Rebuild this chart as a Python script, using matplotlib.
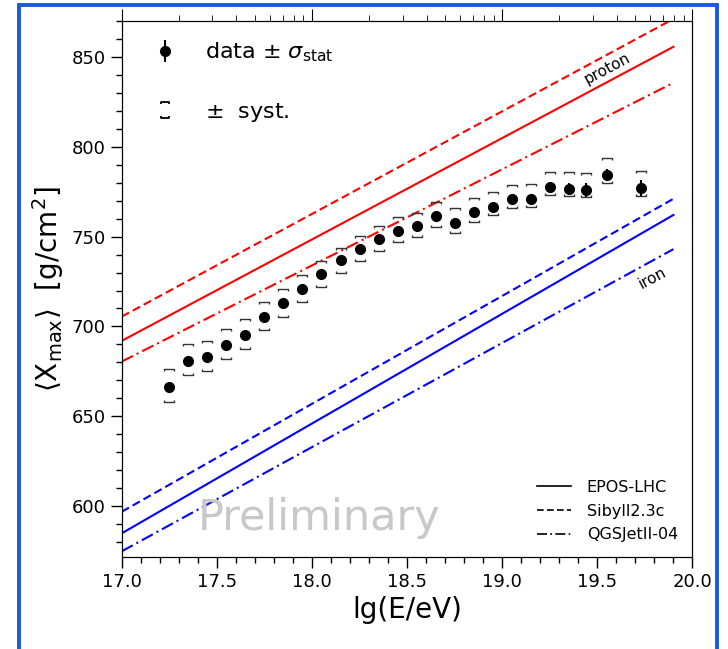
import numpy as np
import matplotlib.pyplot as plt
from matplotlib.path import Path
from matplotlib.patches import Rectangle
from matplotlib.lines import Line2D

# measured <Xmax> vs lg(E/eV)
lgE = [17.25, 17.35, 17.45, 17.55, 17.65, 17.75, 17.85, 17.95, 18.05, 18.15,
       18.25, 18.35, 18.45, 18.55, 18.65, 18.75, 18.85, 18.95, 19.05, 19.15,
       19.25, 19.35, 19.44, 19.55, 19.73]
xmax = [666.5, 681.0, 683.0, 689.5, 695.5, 705.5, 713.0, 721.0, 729.0, 736.7,
        743.3, 748.6, 753.3, 755.7, 761.3, 757.8, 763.7, 766.6, 770.6, 771.0,
        777.6, 776.7, 776.0, 784.2, 777.0]
stat = [1.5, 1.5, 1.5, 1.5, 1.5, 1.5, 1.5, 1.5, 1.5, 1.5,
        1.5, 1.5, 1.5, 1.5, 2.0, 2.0, 2.0, 2.0, 2.5, 2.5,
        3.0, 3.0, 4.0, 3.5, 4.5]
syst_up = [9.6, 9.2, 9.2, 9.0, 8.5, 8.1, 7.6, 7.7, 7.2, 7.0,
           7.0, 7.0, 7.3, 7.4, 7.8, 7.8, 7.8, 8.1, 8.3, 8.2,
           8.5, 9.2, 9.4, 9.2, 9.7]
syst_lo = [8.4, 8.0, 8.0, 7.6, 7.8, 7.6, 7.6, 7.4, 7.2, 7.0,
           6.8, 6.6, 6.4, 6.2, 5.9, 5.6, 5.4, 4.8, 4.6, 4.4,
           4.6, 4.3, 4.1, 4.3, 4.7]

# model predictions (straight lines), value at lg E = 17.0 and 19.9
model_lgE = [17.0, 19.9]
models = ['EPOS-LHC', 'Sibyll2.3c', 'QGSJetII-04']
proton = {'EPOS-LHC': [692.0, 855.5],
          'Sibyll2.3c': [705.5, 871.0],
          'QGSJetII-04': [680.5, 835.5]}
iron = {'EPOS-LHC': [585.0, 762.0],
        'Sibyll2.3c': [597.0, 771.0],
        'QGSJetII-04': [575.0, 743.0]}
styles = {'EPOS-LHC': '-', 'Sibyll2.3c': (0, (4, 2)), 'QGSJetII-04': (0, (6, 2, 1, 2))}

fig = plt.figure(figsize=(7.28, 6.49), dpi=100)
ax = fig.add_axes([0.1672, 0.1422, 0.784, 0.8259])

for m in models:
    ax.plot(model_lgE, proton[m], color='red', lw=1.5, ls=styles[m])
    ax.plot(model_lgE, iron[m], color='blue', lw=1.5, ls=styles[m])

# systematic brackets
top_br = Path([(-1, -0.45), (-1, 0), (1, 0), (1, -0.45)])
bot_br = Path([(-1, 0.45), (-1, 0), (1, 0), (1, 0.45)])
x = np.array(lgE)
y = np.array(xmax)
ax.plot(x, y + np.array(syst_up), ls='none', marker=top_br, ms=6.5,
        mec='#333333', mfc='none', mew=1.0)
ax.plot(x, y - np.array(syst_lo), ls='none', marker=bot_br, ms=6.5,
        mec='#333333', mfc='none', mew=1.0)

ax.errorbar(x, y, yerr=stat, fmt='o', color='black', ms=7, elinewidth=1.5)

ax.set_xlim(17.0, 20.0)
ax.set_ylim(572, 870)
ax.set_xticks(np.arange(17.0, 20.01, 0.5))
ax.set_xticks(np.arange(17.0, 20.01, 0.1), minor=True)
ax.set_yticks([600, 650, 700, 750, 800, 850])
ax.set_yticks(np.arange(580, 871, 10), minor=True)
ax.xaxis.set_major_formatter(plt.FormatStrFormatter('%.1f'))
ax.tick_params(axis='both', which='major', labelsize=13, length=8, width=1, direction='out')
ax.tick_params(axis='both', which='minor', length=4, width=1, direction='out')
ax.tick_params(top=False, right=False)
ax.set_xlabel('lg(E/eV)', fontsize=20)
ax.set_ylabel(r'$\langle\mathrm{X}_{\rm max}\rangle$  [g/cm$^2$]', fontsize=20)

# energy ticks (log spacing) on top
ax_top = ax.twiny()
ax_top.set_xlim(ax.get_xlim())
ax_top.set_xticks([17.0, 18.0, 19.0, 20.0])
ax_top.set_xticks([n + np.log10(k) for n in (17, 18, 19) for k in range(2, 10)], minor=True)
ax_top.tick_params(axis='x', which='major', length=9, labeltop=False, direction='out')
ax_top.tick_params(axis='x', which='minor', length=4.5, direction='out')

ax.text(19.55, 843.5, 'proton', fontsize=11, rotation=28, ha='center', va='center')
ax.text(19.79, 726.8, 'iron', fontsize=11, rotation=28, ha='center', va='center')
ax.text(18.04, 593.7, 'Preliminary', fontsize=31, color='#c8c8c8',
        ha='center', va='center')

# legends
both_br = Path([(-0.5, 0.75), (-0.5, 1), (0.5, 1), (0.5, 0.75),
                (-0.5, -0.75), (-0.5, -1), (0.5, -1), (0.5, -0.75)],
               [Path.MOVETO, Path.LINETO, Path.LINETO, Path.LINETO,
                Path.MOVETO, Path.LINETO, Path.LINETO, Path.LINETO])
h_data = ax.errorbar([], [], yerr=[], fmt='o', color='black', ms=7, elinewidth=1.5)
h_syst = Line2D([], [], ls='none', marker=both_br, ms=11, mec='black', mfc='none', mew=1.3)
leg1 = ax.legend([h_data, h_syst], [r'data $\pm$ $\sigma_{\rm stat}$', r'$\pm$  syst.'],
                 loc='upper left', bbox_to_anchor=(0.0175, 1.004), frameon=False,
                 fontsize=16, labelspacing=1.66, handlelength=1.0, handletextpad=1.3,
                 borderaxespad=0.6)
ax.add_artist(leg1)

model_handles = [Line2D([], [], color='black', lw=1.2, ls=styles[m]) for m in models]
ax.legend(model_handles, models, loc='lower right', frameon=False, fontsize=11.5,
          handlelength=2.1, handletextpad=1.0, labelspacing=0.55, borderaxespad=0.5)

# blue frame around the figure
fig.patches.append(Rectangle((19 / 728, -0.05), (717.3 - 19) / 728, 1.05 - 5.3 / 649,
                             transform=fig.transFigure, fill=False,
                             edgecolor='#1a5ad8', lw=2.8))

fig.savefig('out.png', dpi=100)
